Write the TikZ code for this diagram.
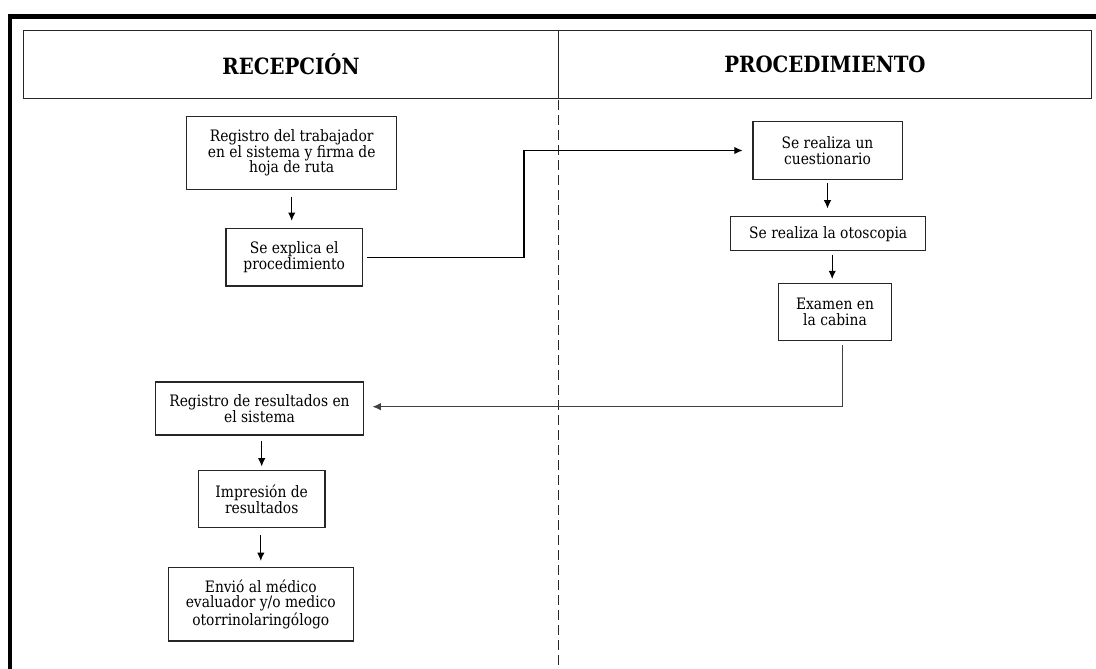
\documentclass[tikz,border=0pt]{standalone}
\usepackage{fontspec}
\setmainfont{DejaVu Serif}[FakeStretch=0.88]
\usetikzlibrary{arrows.meta}
\begin{document}
\begin{tikzpicture}[x=0.75pt,y=-0.75pt,
  stepbox/.style={draw=black!85, line width=1.1pt, align=center, inner sep=0pt,
    font=\fontsize{11.8pt}{11.6pt}\selectfont},
  flow/.style={draw=black, line width=1pt, -{Latex[length=6.3pt,width=5.6pt]},
    shorten <=3pt, shorten >=4pt},
  lane/.style={font=\fontsize{16.8pt}{19pt}\selectfont\bfseries, inner sep=0pt},
  rule/.style={draw=black!85, line width=1.1pt}]
\useasboundingbox (0,0) rectangle (1096,668);
\clip (0,0) rectangle (1096,668);

% heavy outer frame (runs off the page on the right and at the bottom)
\draw[line width=3.3pt] (10,700) -- (10,16.5) -- (1120,16.5);

% swimlane header
\draw[rule] (23.7,30.5) rectangle (1091.7,98.3);
\draw[rule] (558.3,30.5) -- (558.3,98.3);
\node[lane] (h1) at (291,64.4) {RECEPCIÓN};
\node[lane] (h2) at (825,64.4) {PROCEDIMIENTO};

% lane separator
\draw[black!85, line width=0.9pt, dash pattern=on 7.5pt off 3.75pt] (558.3,100) -- (558.3,670);

% reception lane
\node[stepbox, minimum width=157.5pt, minimum height=54.5pt] (b1) at (291.7,153)
  {Registro del trabajador\\en el sistema y firma de\\hoja de ruta};
\node[stepbox, minimum width=102.2pt, minimum height=43.3pt] (b2) at (294.2,257.2)
  {Se explica el\\procedimiento};
\node[stepbox, minimum width=155.7pt, minimum height=40pt] (b6) at (259.5,408.5)
  {Registro de resultados en\\el sistema};
\node[stepbox, minimum width=95pt, minimum height=42.8pt] (b7) at (261.7,499.2)
  {Impresión de\\resultados};
\node[stepbox, minimum width=138.8pt, minimum height=55.3pt] (b8) at (260.8,604.2)
  {Envió al médico\\evaluador y/o medico\\otorrinolaringólogo};

% procedure lane
\node[stepbox, minimum width=112.1pt, minimum height=43.2pt] (b3) at (827.5,150.5)
  {Se realiza un\\cuestionario};
\node[stepbox, minimum width=146.3pt, minimum height=25.5pt] (b4) at (828.2,233.7)
  {Se realiza la otoscopia};
\node[stepbox, minimum width=85.1pt, minimum height=43.1pt] (b5) at (835,312)
  {Examen en\\la cabina};

% bends of the cross-lane connectors
\coordinate (k1) at (524,200);
\coordinate (k2) at (842.5,406.7);

% connectors
\draw[flow, shorten <=5pt, shorten >=5pt] (b1.south) -- (b1.south |- b2.north);
\draw[flow, shorten >=7pt] (b2.east) -- (b2.east -| k1) |- (b3.west);
\draw[flow, shorten <=2.5pt, shorten >=5.5pt] (b3.south) -- (b3.south |- b4.north);
\draw[flow, shorten <=2.5pt, shorten >=2.5pt] ([xshift=3pt]b4.south) -- ([xshift=3pt]b4.south |- b5.north);
\draw[flow, draw=black!75, shorten <=2.7pt, shorten >=6.3pt] (b5.south -| k2) -- (k2) -- (k2 -| b6.east);
\draw[flow, shorten <=3.8pt, shorten >=2.5pt] (b7.north |- b6.south) -- (b7.north);
\draw[flow, shorten <=5pt, shorten >=4.2pt] (b8.north |- b7.south) -- (b8.north);
\end{tikzpicture}
\end{document}
